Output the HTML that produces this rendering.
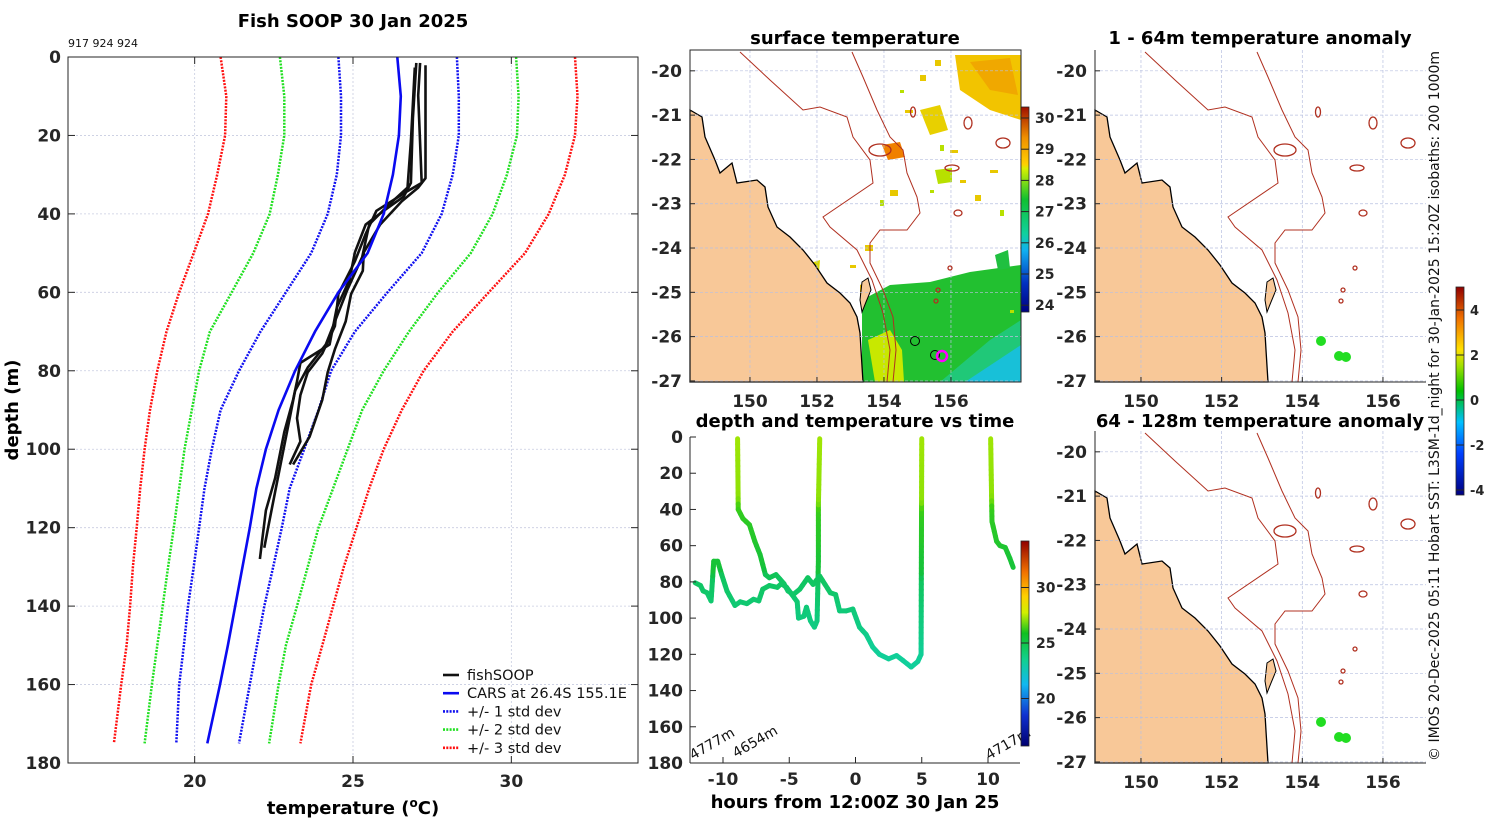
<!DOCTYPE html>
<html><head><meta charset="utf-8">
<style>
html,body{margin:0;padding:0;background:#fff;}
svg{display:block;font-family:"DejaVu Sans","Liberation Sans",sans-serif;}
.tk{font-weight:bold;font-size:17px;fill:#262626;}
.ttl{font-weight:bold;font-size:18px;fill:#000;}
</style></head>
<body>
<svg id="fig" width="1500" height="820" viewBox="0 0 1500 820" xmlns="http://www.w3.org/2000/svg">
<defs>
<linearGradient id="cbSST" x1="0" y1="1" x2="0" y2="0">
<stop offset="0" stop-color="#000080"/><stop offset="0.14" stop-color="#0030c0"/><stop offset="0.3" stop-color="#10b0f0"/><stop offset="0.38" stop-color="#10d0a0"/><stop offset="0.55" stop-color="#10c030"/><stop offset="0.7" stop-color="#d8f000"/><stop offset="0.72" stop-color="#ffd000"/><stop offset="0.85" stop-color="#f09000"/><stop offset="1" stop-color="#a01000"/>
</linearGradient>
<linearGradient id="cbT" x1="0" y1="1" x2="0" y2="0">
<stop offset="0" stop-color="#000070"/><stop offset="0.15" stop-color="#1030d0"/><stop offset="0.3" stop-color="#10b8f0"/><stop offset="0.42" stop-color="#10d090"/><stop offset="0.55" stop-color="#10c020"/><stop offset="0.65" stop-color="#d0f000"/><stop offset="0.73" stop-color="#ffd000"/><stop offset="0.85" stop-color="#f07000"/><stop offset="1" stop-color="#900000"/>
</linearGradient>
<linearGradient id="cbA" x1="0" y1="1" x2="0" y2="0">
<stop offset="0" stop-color="#000080"/><stop offset="0.2" stop-color="#0040ff"/><stop offset="0.35" stop-color="#00c0ff"/><stop offset="0.5" stop-color="#00c000"/><stop offset="0.62" stop-color="#a0e000"/><stop offset="0.7" stop-color="#ffe000"/><stop offset="0.85" stop-color="#f07000"/><stop offset="1" stop-color="#900000"/>
</linearGradient>
</defs>
<g id="root"></g>
<g>
<text class="ttl" x="353" y="27" text-anchor="middle">Fish SOOP 30 Jan 2025</text>
<text x="68" y="47" font-size="11px" fill="#111">917 924 924</text>
<text class="ttl" x="0" y="0" text-anchor="middle" transform="translate(18,410) rotate(-90)" font-size="17px" fill="#262626">depth (m)</text>
<text class="ttl" x="353" y="814" text-anchor="middle" font-size="17px" fill="#262626">temperature (<tspan dy="-7" font-size="12px">o</tspan><tspan dy="7">C)</tspan></text>
<text class="ttl" x="855" y="44" text-anchor="middle">surface temperature</text>
<text class="ttl" x="1260" y="44" text-anchor="middle">1 - 64m temperature anomaly</text>
<text class="ttl" x="855" y="427" text-anchor="middle">depth and temperature vs time</text>
<text class="ttl" x="1260" y="427" text-anchor="middle">64 - 128m temperature anomaly</text>
<text class="ttl" x="855" y="808" text-anchor="middle" font-size="17px" fill="#262626">hours from 12:00Z 30 Jan 25</text>
<text x="0" y="0" transform="translate(1439,761) rotate(-90)" font-size="14px" fill="#111">© IMOS 20-Dec-2025 05:11 Hobart SST: L3SM-1d_night for 30-Jan-2025 15:20Z isobaths: 200  1000m</text>
</g>
</svg>
<script>
// ---------- profile chart data ----------
const depthGrid = [0,10,20,30,40,50,60,70,80,90,100,110,120,130,140,150,160,175];
const carsMean = [26.40,26.51,26.45,26.26,25.97,25.46,24.54,23.80,23.17,22.65,22.25,21.95,21.74,21.51,21.28,21.05,20.80,20.40];
const sd1Lo = [24.54,24.62,24.62,24.49,24.20,23.68,22.88,22.08,21.40,20.82,20.54,20.31,20.14,19.97,19.79,19.66,19.51,19.42];
const sd1Hi = [28.28,28.34,28.34,28.15,27.80,27.17,26.09,25.06,24.31,23.91,23.46,23.00,22.75,22.48,22.20,21.97,21.74,21.40];
const sd2Lo = [22.69,22.83,22.83,22.63,22.37,21.85,21.17,20.48,20.14,19.91,19.68,19.51,19.34,19.16,18.99,18.82,18.65,18.42];
const sd2Hi = [30.15,30.23,30.18,29.86,29.41,28.72,27.69,26.77,25.97,25.29,24.83,24.37,23.91,23.57,23.23,22.88,22.65,22.35];
const sd3Lo = [20.82,21.00,20.96,20.71,20.42,19.97,19.51,19.11,18.82,18.59,18.42,18.28,18.17,18.05,17.96,17.85,17.68,17.45];
const sd3Hi = [32.01,32.09,32.01,31.69,31.18,30.43,29.29,28.15,27.23,26.54,25.97,25.51,25.11,24.71,24.37,24.03,23.68,23.34];
const profADepth = [1.5,15.6,32.1,35.6,39.2,42.7,49.8,56.8,63.9,73.3,78.0,82.7,87.4,95.6,107.4,115.6,122.7,128.0];
const profATemp  = [27.00,26.89,26.83,26.60,25.97,25.40,25.06,24.89,24.49,24.26,23.34,23.23,23.11,22.83,22.54,22.25,22.14,22.06];
const profBDepth = [2.1,30.9,33.3,36.8,42.7,49.8,54.5,60.4,67.4,74.5,80.4,87.4,96.8,103.9];
const profBTemp  = [27.29,27.29,27.06,26.54,25.86,25.34,25.31,24.94,24.77,24.43,24.20,24.03,23.63,23.11];
const profCDepth = [1.5,9.8,32.1,34.5,39.2,45.1,52.1,60.4,68.6,75.6,80.4,86.2,92.1,98.0,103.9];
const profCTemp  = [27.12,27.06,27.17,26.66,25.74,25.40,25.06,24.54,24.43,24.03,23.57,23.34,23.23,23.34,23.00];
const profDDepth = [2.7,21.5,33.3,38.0,42.7,51.0,59.2,66.2,73.3,79.2,85.1,92.1,101.5,110.9,120.4,125.1];
const profDTemp  = [26.95,26.83,26.72,26.09,25.51,25.29,24.83,24.49,24.14,23.57,23.17,23.00,22.77,22.54,22.31,22.20];
const tempTicks = [20,25,30];
const depthTicks = [0,20,40,60,80,100,120,140,160,180];
// ---------- time series data ----------
const s1Hours = [-12.1,-11.7,-11.5,-11.2,-10.9,-10.7,-10.4,-10.1,-9.7,-9.1,-8.7,-8.2,-7.7,-7.3,-7.0,-6.5,-5.9,-5.6,-5.2,-4.8,-4.4,-4.3,-3.9,-3.7,-3.4,-3.1,-2.9,-2.8,-2.8,-2.7];
const s1Depth = [80.5,82,85,86,90.5,68.6,68.6,76,85,93,91,92,89.6,90.5,84,82,83,81,83,87,91,100,99,94,101.5,105,101.5,68.6,37.5,1];
const s2Hours = [-8.9,-8.85,-8.5,-8.0,-7.6,-7.2,-6.8,-6.5,-6.0,-5.4,-5.1,-4.7,-4.2,-3.6,-3.2,-2.7,-2.3,-1.9,-1.5,-1.2,-0.7,-0.2,0.3,0.8,1.3,1.8,2.5,3.1,3.6,4.2,4.7,4.95,5.0];
const s2Depth = [1,40,45,48.5,57.6,65,76,77.7,76,81,85,87,84,77.7,81.4,76.8,81.4,86,87,96,96,95,105,109,116,120,122.5,120.7,123.5,127,124,120,1];
const s3Hours = [10.2,10.3,10.65,10.9,11.3,11.65,11.9];
const s3Depth = [1,46.6,57.6,60,61,67,72];
const hourTicks = [-10,-5,0,5,10];
const tsDepthTicks = [0,20,40,60,80,100,120,140,160,180];
const tsCbTicks = [20,25,30];
// ---------- maps ----------
const lonTicks = [150,152,154,156];
const latTicks = [-20,-21,-22,-23,-24,-25,-26,-27];
const sstCbTicks = [24,25,26,27,28,29,30];
const anomCbTicks = [-4,-2,0,2,4];

const NS='http://www.w3.org/2000/svg';
const root=document.getElementById('root');
function el(tag,attrs,parent,text){const e=document.createElementNS(NS,tag);for(const k in attrs)e.setAttribute(k,attrs[k]);if(text!==undefined)e.textContent=text;(parent||root).appendChild(e);return e;}
function grp(name,parent){const g=el('g',{},parent);


return g;}

// ================= LEFT PROFILE CHART =================
const PX0=68,PX1=638,PY0=57,PY1=763;
const xT=t=>PX0+(t-16)*(PX1-PX0)/18;
const yD=d=>PY0+d*(PY1-PY0)/180;
const gP=grp('profile-chart');
const gGrid=grp('profile-grid',gP);
tempTicks.forEach(t=>{el('line',{x1:xT(t),x2:xT(t),y1:PY0,y2:PY1,stroke:'#c8cce0','stroke-width':0.8,'stroke-dasharray':'2,2'},gGrid);});
depthTicks.forEach(d=>{el('line',{x1:PX0,x2:PX1,y1:yD(d),y2:yD(d),stroke:'#c8cce0','stroke-width':0.8,'stroke-dasharray':'2,2'},gGrid);});
function pline(temps,depths,color,w,dash,name){const p=temps.map((t,i)=>xT(t).toFixed(1)+','+yD(depths[i]).toFixed(1)).join(' ');
const l=el('polyline',{points:p,fill:'none',stroke:color,'stroke-width':w,'stroke-linejoin':'round'},gP);if(dash)l.setAttribute('stroke-dasharray',dash);

}
pline(sd3Lo,depthGrid,'#ff1010',2.5,'2,1.3','minus-3-std-line');
pline(sd3Hi,depthGrid,'#ff1010',2.5,'2,1.3','plus-3-std-line');
pline(sd2Lo,depthGrid,'#20e020',2.5,'2,1.3','minus-2-std-line');
pline(sd2Hi,depthGrid,'#20e020',2.5,'2,1.3','plus-2-std-line');
pline(sd1Lo,depthGrid,'#1010f0',2.5,'2,1.3','minus-1-std-line');
pline(sd1Hi,depthGrid,'#1010f0',2.5,'2,1.3','plus-1-std-line');
pline(profATemp,profADepth,'#111',2.6,null,'fishsoop-profile-a');
pline(profBTemp,profBDepth,'#111',2.6,null,'fishsoop-profile-b');
pline(profCTemp,profCDepth,'#111',2.6,null,'fishsoop-profile-c');
pline(profDTemp,profDDepth,'#111',2.6,null,'fishsoop-profile-d');
pline(carsMean,depthGrid,'#0a0af0',2.6,null,'cars-mean-line');
el('rect',{x:PX0,y:PY0,width:PX1-PX0,height:PY1-PY0,fill:'none',stroke:'#262626','stroke-width':1},gP);
const gAx=grp('profile-axes',gP);
tempTicks.forEach(t=>{el('line',{x1:xT(t),x2:xT(t),y1:PY0,y2:PY0+7,stroke:'#262626'},gAx);el('line',{x1:xT(t),x2:xT(t),y1:PY1,y2:PY1-7,stroke:'#262626'},gAx);
el('text',{x:xT(t),y:787,'text-anchor':'middle',class:'tk'},gAx,String(t));});
depthTicks.forEach(d=>{el('line',{x1:PX0,x2:PX0+7,y1:yD(d),y2:yD(d),stroke:'#262626'},gAx);el('line',{x1:PX1,x2:PX1-7,y1:yD(d),y2:yD(d),stroke:'#262626'},gAx);
el('text',{x:61,y:yD(d)+6,'text-anchor':'end',class:'tk'},gAx,String(d));});

(function(){
const gL=grp('profile-legend');
const items=[['fishSOOP','#111',null],['CARS at 26.4S 155.1E','#0a0af0',null],['+/- 1 std dev','#1010f0','2,1.3'],['+/- 2 std dev','#20e020','2,1.3'],['+/- 3 std dev','#ff1010','2,1.3']];
items.forEach((it,i)=>{const y=675+i*18.2;const g=el('g',{},gL);


const l=el('line',{x1:443,x2:459,y1:y,y2:y,stroke:it[1],'stroke-width':2.6},g);if(it[2])l.setAttribute('stroke-dasharray',it[2]);
el('text',{x:467,y:y+5,'font-size':'14.5px',fill:'#111'},g,it[0]);});
})();

// ================= TIME SERIES =================
(function(){
const X0=690,X1=1020,Y0=437,Y1=763;
const xH=h=>855.5+h*13.25;
const yD2=d=>Y0+d*(Y1-Y0)/180;
const g=grp('time-series-chart');
const stops=[[16,'#000070'],[18,'#1030d0'],[20,'#10a8f0'],[22,'#10d0a0'],[24,'#10c040'],[26,'#40d010'],[27.5,'#d0f000'],[29,'#ffd000'],[31,'#f07000'],[34,'#900000']];
function hex(c){return [parseInt(c.substr(1,2),16),parseInt(c.substr(3,2),16),parseInt(c.substr(5,2),16)];}
function cmap(t){if(t<=stops[0][0])return stops[0][1];for(let i=1;i<stops.length;i++){if(t<=stops[i][0]){const f=(t-stops[i-1][0])/(stops[i][0]-stops[i-1][0]);const a=hex(stops[i-1][1]),b=hex(stops[i][1]);return 'rgb('+a.map((v,k)=>Math.round(v+(b[k]-v)*f)).join(',')+')';}}return stops[stops.length-1][1];}
function tAt(d){const D=profADepth,T=profATemp;if(d<=D[0])return T[0];for(let i=1;i<D.length;i++)if(d<=D[i])return T[i-1]+(T[i]-T[i-1])*(d-D[i-1])/(D[i]-D[i-1]);return T[T.length-1];}
function series(H,D,name){const gs=el('g',{},g);


for(let i=1;i<H.length;i++){const n=Math.max(1,Math.ceil(Math.abs(D[i]-D[i-1])/3));for(let k=0;k<n;k++){const h0=H[i-1]+(H[i]-H[i-1])*k/n,h1=H[i-1]+(H[i]-H[i-1])*(k+1)/n,d0=D[i-1]+(D[i]-D[i-1])*k/n,d1=D[i-1]+(D[i]-D[i-1])*(k+1)/n;
el('line',{x1:xH(h0),y1:yD2(d0),x2:xH(h1),y2:yD2(d1),stroke:cmap(tAt((d0+d1)/2)),'stroke-width':5,'stroke-linecap':'round'},gs);}}}
series(s1Hours,s1Depth,'track-series-1');
series(s2Hours,s2Depth,'track-series-2');
series(s3Hours,s3Depth,'track-series-3');
el('line',{x1:X0,x2:X0,y1:Y0,y2:Y1,stroke:'#262626'},g);el('line',{x1:X0,x2:X1,y1:Y1,y2:Y1,stroke:'#262626'},g);
hourTicks.forEach(h=>{el('line',{x1:xH(h),x2:xH(h),y1:Y1,y2:Y1-6,stroke:'#262626'},g);el('text',{x:xH(h),y:785,'text-anchor':'middle',class:'tk'},g,String(h));});
tsDepthTicks.forEach(d=>{el('line',{x1:X0,x2:X0+6,y1:yD2(d),y2:yD2(d),stroke:'#262626'},g);el('text',{x:683,y:yD2(d)+6,'text-anchor':'end',class:'tk'},g,String(d));});
[['4777m',693,760],['4654m',736,758],['4717m',989,760]].forEach(a=>{const t=el('text',{x:0,y:0,transform:'translate('+a[1]+','+a[2]+') rotate(-30)','font-size':'14px',fill:'#111'},g,a[0]);

});
const cb=grp('time-colorbar',g);
el('rect',{x:1021,y:541,width:8,height:205,fill:'url(#cbT)',stroke:'#262626','stroke-width':0.8},cb);
const yc=t=>643-(t-25)*11.1;
tsCbTicks.forEach(t=>{el('line',{x1:1021,x2:1029,y1:yc(t),y2:yc(t),stroke:'#262626'},cb);el('text',{x:1036,y:yc(t)+5,'font-size':'14px','font-weight':'bold',fill:'#262626'},cb,String(t));});
})();

// ================= MAPS =================
const coast=[[0,60],[12,67],[15,87],[25,110],[30,123],[42,113],[47,133],[67,130],[75,137],[78,157],[87,177],[100,187],[113,200],[125,215],[137,233],[150,243],[160,253],[167,267],[170,283],[171,300],[173,332],[0,332]];
const fraser=[[172,232],[178,228],[181,240],[176,252],[172,262],[170,250]];
const iso1000=[[50,2],[80,30],[113,60],[130,57],[157,67],[163,87],[180,110],[183,133],[133,167],[140,177],[167,200],[182,230],[193,263],[200,300],[197,332]];
const iso200=[[162,2],[173,27],[187,60],[200,87],[213,100],[217,123],[227,147],[230,163],[217,180],[190,180],[180,193],[180,213],[193,240],[203,267],[206,300],[203,332]];
const seamounts=[[223,62,2.5,5],[278,73,4,6],[313,93,7,5],[262,118,7,3],[268,163,4,3],[190,100,11,6],[260,218,2,2],[248,240,2,2],[246,251,2,2]];
function drawMap(x0,y0,name,full,sst,lonLeft,pxPerDeg){
const W=331,H=332;const g=grp(name);
const P=pts=>pts.map(p=>(x0+p[0]).toFixed(1)+','+(y0+p[1]).toFixed(1)).join(' ');
const xL=lon=>x0+(lon-lonLeft)*pxPerDeg; const yL=lat=>y0+(-19.53-lat)*44.3;
if(sst){const gs=grp('sst-field',g);
const patches=[
['#22c030',[[172,250],[200,235],[240,232],[280,222],[331,215],[331,332],[172,332]]],
['#20c878',[[250,332],[300,290],[331,270],[331,332]]],
['#18c0d8',[[275,332],[331,295],[331,332]]],
['#c8e800',[[178,290],[200,280],[212,300],[214,332],[185,332]]],
['#f2c400',[[265,5],[331,5],[331,70],[300,60],[270,40]]],
['#f0a800',[[280,12],[320,8],[328,45],[300,40]]],
['#f08000',[[192,95],[210,92],[215,107],[198,110]]],
['#e8d000',[[230,60],[250,55],[258,80],[240,85]]],
['#b8e000',[[245,120],[262,118],[262,132],[248,134]]],
['#20c040',[[305,205],[318,200],[320,218],[308,220]]],
['#d8d800',[[115,215],[130,210],[128,235],[118,238]]],
['#e0b000',[[170,235],[176,232],[177,248],[170,250]]]];
patches.forEach(p=>el('polygon',{points:P(p[1]),fill:p[0]},gs));
const dots=[[210,40],[230,25],[215,60],[250,95],[270,130],[200,140],[240,140],[285,145],[300,120],[310,160],[160,215],[175,195],[320,260],[245,10],[260,100],[190,150]];
dots.forEach((d,i)=>el('rect',{x:x0+d[0],y:y0+d[1],width:4+(i%3)*2,height:3+(i%2)*3,fill:i%3?'#e8c800':'#b8e000'},gs));}
el('polygon',{points:P(coast),fill:'#f8c898',stroke:'#000','stroke-width':1.3},g);
el('polygon',{points:P(fraser),fill:'#f8c898',stroke:'#000','stroke-width':1},g);
const gg=grp('map-grid',g);
lonTicks.forEach(l=>el('line',{x1:xL(l),x2:xL(l),y1:y0,y2:y0+H,stroke:'#b8c0e0','stroke-width':0.7,'stroke-dasharray':'3,2'},gg));
latTicks.forEach(l=>el('line',{x1:x0,x2:x0+W,y1:yL(l),y2:yL(l),stroke:'#b8c0e0','stroke-width':0.7,'stroke-dasharray':'3,2'},gg));
el('polyline',{points:P(iso1000),fill:'none',stroke:'#b03020','stroke-width':1},g);
el('polyline',{points:P(iso200),fill:'none',stroke:'#b03020','stroke-width':1},g);
seamounts.forEach(s=>el('ellipse',{cx:x0+s[0],cy:y0+s[1],rx:s[2],ry:s[3],fill:'none',stroke:'#b03020','stroke-width':1.3},g));
if(full)el('rect',{x:x0,y:y0,width:W,height:H,fill:'none',stroke:'#262626'},g);
else{el('line',{x1:x0,x2:x0,y1:y0,y2:y0+H,stroke:'#262626'},g);el('line',{x1:x0,x2:x0+W,y1:y0+H,y2:y0+H,stroke:'#262626'},g);}
lonTicks.forEach(l=>{el('line',{x1:xL(l),x2:xL(l),y1:y0+H,y2:y0+H-5,stroke:'#262626'},g);el('text',{x:xL(l),y:y0+H+25,'text-anchor':'middle',class:'tk'},g,String(l));});
latTicks.forEach(l=>{el('line',{x1:x0,x2:x0+5,y1:yL(l),y2:yL(l),stroke:'#262626'},g);el('text',{x:x0-8,y:yL(l)+6,'text-anchor':'end',class:'tk'},g,String(l));});
return {g,P};}
const m1=drawMap(690,50,'sst-map',true,true,148.21,33.5);
el('circle',{cx:690+225,cy:50+291,r:4.5,fill:'#22c030',stroke:'#000','stroke-width':1},m1.g);
el('circle',{cx:690+245,cy:50+305,r:4.5,fill:'none',stroke:'#000','stroke-width':1},m1.g);
el('circle',{cx:690+252,cy:50+306,r:5,fill:'none',stroke:'#ff00ff','stroke-width':2.5},m1.g);
(function(){const cb=grp('sst-colorbar');el('rect',{x:1021,y:107,width:8,height:205,fill:'url(#cbSST)',stroke:'#262626','stroke-width':0.8},cb);
const yc=t=>118+(30-t)*31.2;sstCbTicks.forEach(t=>{el('line',{x1:1021,x2:1029,y1:yc(t),y2:yc(t),stroke:'#262626'},cb);el('text',{x:1035,y:yc(t)+5,'font-size':'14px','font-weight':'bold',fill:'#262626'},cb,String(t));});})();
const m2=drawMap(1095,50,'anomaly-map-1',false,false,148.86,40.33);
const m3=drawMap(1095,431,'anomaly-map-2',false,false,148.86,40.33);
[[m2,1095,50],[m3,1095,431]].forEach(m=>{[[226,291],[244,306],[251,307]].forEach(c=>el('circle',{cx:m[1]+c[0],cy:m[2]+c[1],r:5,fill:'#22dd22'},m[0].g));});
(function(){const cb=grp('anomaly-colorbar');el('rect',{x:1456,y:287,width:8,height:208,fill:'url(#cbA)',stroke:'#262626','stroke-width':0.8},cb);
const yc=t=>400-t*22.5;anomCbTicks.forEach(t=>{el('line',{x1:1456,x2:1464,y1:yc(t),y2:yc(t),stroke:'#262626'},cb);el('text',{x:1470,y:yc(t)+5,'font-size':'13px','font-weight':'bold',fill:'#262626'},cb,String(t));});})();
</script>
</body></html>
